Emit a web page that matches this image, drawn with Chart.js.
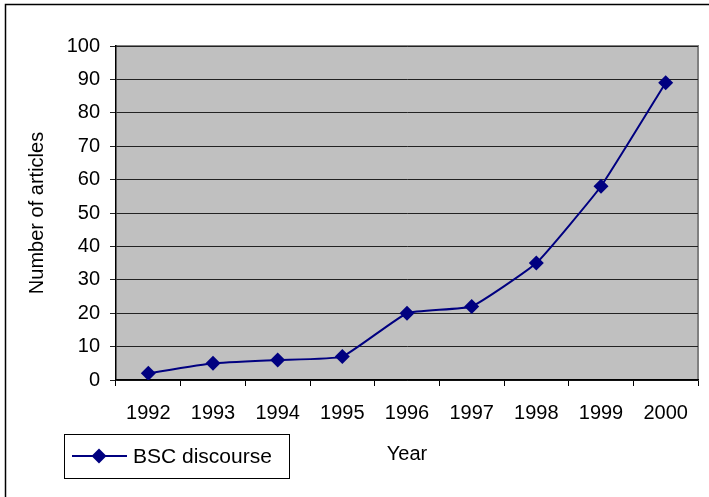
<!DOCTYPE html>
<html>
<head>
<meta charset="utf-8">
<script src="https://cdn.jsdelivr.net/npm/chart.js@4/dist/chart.umd.min.js"></script>
<style>
  body { margin: 0; background: #fff; }
  canvas { display: block; }
</style>
</head>
<body>
<canvas id="articlesChart" width="709" height="497"></canvas>
<script>
// chart data
var years = ["1992", "1993", "1994", "1995", "1996", "1997", "1998", "1999", "2000"];
var articles = [2, 5, 6, 7, 20, 22, 35, 58, 89];
var yTicks = [0, 10, 20, 30, 40, 50, 60, 70, 80, 90, 100];
var seriesName = "BSC discourse";

var navy = "#000080";
var fontFamily = "'Liberation Sans', Arial, sans-serif";

// grey plot area, frame around the picture and the boxed legend
var excelLook = {
	id: "excelLook",
	beforeDraw: function (chart) {
		var c = chart.ctx, a = chart.chartArea;
		c.save();
		c.fillStyle = "#fff";
		c.fillRect(0, 0, chart.width, chart.height);
		// outer frame (only top and left are visible)
		c.strokeStyle = "#000";
		c.lineWidth = 1.5;
		c.beginPath();
		c.moveTo(5.5, chart.height);
		c.lineTo(5.5, 4.5);
		c.lineTo(chart.width, 4.5);
		c.stroke();
		// plot area
		c.fillStyle = "#c0c0c0";
		c.fillRect(a.left, a.top, a.right - a.left, a.bottom - a.top);
		c.strokeStyle = "#808080";
		c.lineWidth = 2;
		c.beginPath();
		c.moveTo(a.left, a.top);
		c.lineTo(a.right, a.top);
		c.lineTo(a.right, a.bottom);
		c.stroke();
		c.restore();
	},
	afterDraw: function (chart) {
		var c = chart.ctx;
		var ds = chart.data.datasets[0];
		c.save();
		c.strokeStyle = "#000";
		c.lineWidth = 1;
		c.strokeRect(64.5, 434.5, 225, 44);
		c.strokeStyle = ds.borderColor;
		c.lineWidth = ds.borderWidth;
		c.beginPath();
		c.moveTo(72, 456);
		c.lineTo(127, 456);
		c.stroke();
		c.fillStyle = ds.pointBackgroundColor;
		Chart.helpers.drawPoint(c, { pointStyle: "rectRot", radius: ds.pointRadius, borderWidth: 0 }, 99, 456);
		c.fillStyle = "#000";
		c.font = "21px " + fontFamily;
		c.textBaseline = "middle";
		c.fillText(ds.label, 133, 457);
		c.restore();
	}
};

var ctx = document.getElementById("articlesChart").getContext("2d");
var articlesChart = new Chart(ctx, {
	type: "line",
	data: {
		labels: years,
		datasets: [{
			label: seriesName,
			data: articles,
			borderColor: navy,
			backgroundColor: navy,
			borderWidth: 2,
			pointStyle: "rectRot",
			pointRadius: 7.5,
			pointBackgroundColor: navy,
			pointBorderColor: navy,
			pointBorderWidth: 0,
			tension: 0.12,
		}],
	},
	options: {
		responsive: false,
		animation: false,
		layout: { padding: { left: 0, top: 46, right: 11, bottom: 0 } },
		plugins: {
			legend: { display: false },
			tooltip: { enabled: false },
		},
		scales: {
			x: {
				offset: true,
				afterFit: function (scale) { scale.height = 117; },
				grid: {
					offset: true,
					drawOnChartArea: false,
					drawTicks: true,
					tickLength: 6,
					color: "#000",
				},
				border: { color: "#000", width: 1.5 },
				ticks: {
					color: "#000",
					padding: 15,
					maxRotation: 0,
					font: { family: fontFamily, size: 20 },
				},
				title: {
					display: true,
					text: "Year",
					color: "#000",
					font: { family: fontFamily, size: 20 },
					padding: { top: 0, bottom: 31 },
				},
			},
			y: {
				min: 0,
				max: 100,
				afterFit: function (scale) { scale.width = 116; },
				afterBuildTicks: function (scale) {
					scale.ticks = yTicks.map(function (v) { return { value: v }; });
				},
				grid: {
					color: "#222",
					lineWidth: 1,
					tickLength: 6,
				},
				border: { color: "#000", width: 1.5 },
				ticks: {
					color: "#000",
					padding: 10,
					font: { family: fontFamily, size: 20 },
				},
				title: {
					display: true,
					text: "Number of articles",
					color: "#000",
					font: { family: fontFamily, size: 20 },
					padding: { top: 25, bottom: 0 },
				},
			},
		},
	},
	plugins: [excelLook],
});
</script>
</body>
</html>
